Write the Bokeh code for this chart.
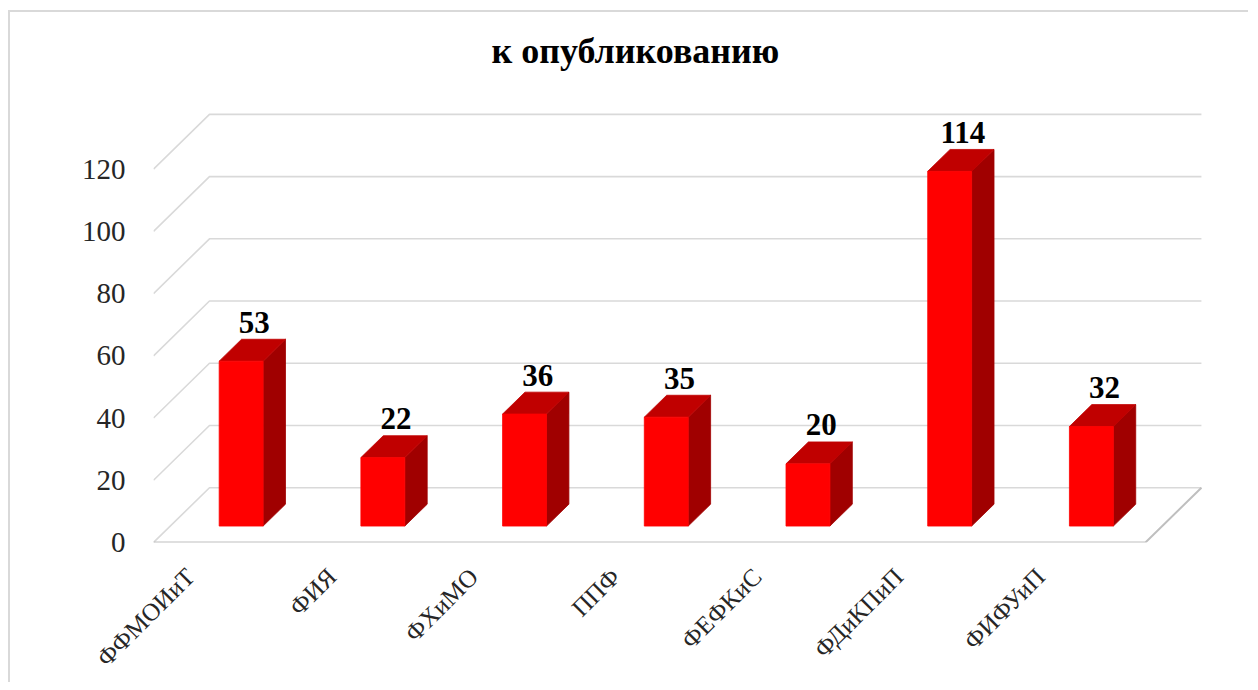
import math
from bokeh.plotting import figure
from bokeh.models import Range1d, FixedTicker, ColumnDataSource
from bokeh.core.properties import value
from bokeh.embed import file_html
from bokeh.resources import INLINE

# ---- data ----
categories = ["ФФМОИиТ", "ФИЯ", "ФХиМО", "ППФ", "ФЕФКиС", "ФДиКПиП", "ФИФУиП"]
values = [53, 22, 36, 35, 20, 114, 32]
y_ticks = [0, 20, 40, 60, 80, 100, 120]
title_text = "к опубликованию"

# ---- 3D look (oblique projection in data units) ----
N = len(categories)
DEPTH_DX = 0.395     # shift in category units for full depth
DEPTH_DY = 17.6      # shift in value units for full depth
BAR_HALF = 0.155     # half bar width (category units)
D0, D1 = 0.3, 0.7    # bar depth extent (0 = front, 1 = back)
LABEL_SHIFT = -0.24  # category-label anchor shift (category units)

FRONT = "#FF0000"
TOP = "#C00000"
SIDE = "#A00000"
GRID = "#D9D9D9"
FLOOR = "#BFBFBF"
SERIF = "Liberation Serif"


def proj(c, v, d):
    return c + d * DEPTH_DX, v + d * DEPTH_DY


def poly(pts):
    xs, ys = zip(*[proj(*q) for q in pts])
    return list(xs), list(ys)


p = figure(width=1240, height=672,
           x_range=Range1d(0, 7.445), y_range=Range1d(0, 148.48),
           output_backend="svg", toolbar_location=None,
           min_border_left=143, min_border_right=42,
           min_border_top=68, min_border_bottom=140)
p.styles = {"margin-left": "8px", "margin-top": "10px",
            "border-top": "2px solid #D9D9D9", "border-left": "2px solid #D9D9D9"}
p.outline_line_color = None
p.xgrid.visible = False
p.ygrid.visible = False
p.background_fill_color = "white"
p.border_fill_color = "white"

# gridlines: left wall + back wall
gx, gy = [], []
for v in y_ticks:
    xs, ys = poly([(0, v, 0), (0, v, 1), (N, v, 1)])
    gx.append(xs)
    gy.append(ys)
p.multi_line(gx, gy, line_color=GRID, line_width=1.6)

# floor outline (front & right edges)
fx, fy = poly([(0, 0, 0), (N, 0, 0), (N, 0, 1)])
p.line(fx, fy, line_color=FLOOR, line_width=2)

# bars
fr_x, fr_y, tp_x, tp_y, sd_x, sd_y = [], [], [], [], [], []
for i, v in enumerate(values):
    c0, c1 = i + 0.5 - BAR_HALF, i + 0.5 + BAR_HALF
    xs, ys = poly([(c0, 0, D0), (c1, 0, D0), (c1, v, D0), (c0, v, D0)])
    fr_x.append(xs); fr_y.append(ys)
    xs, ys = poly([(c0, v, D0), (c1, v, D0), (c1, v, D1), (c0, v, D1)])
    tp_x.append(xs); tp_y.append(ys)
    xs, ys = poly([(c1, 0, D0), (c1, 0, D1), (c1, v, D1), (c1, v, D0)])
    sd_x.append(xs); sd_y.append(ys)
p.patches(sd_x, sd_y, fill_color=SIDE, line_color=SIDE, line_width=0.8)
p.patches(tp_x, tp_y, fill_color=TOP, line_color=TOP, line_width=0.8)
p.patches(fr_x, fr_y, fill_color=FRONT, line_color=FRONT, line_width=0.8)

# value labels
lx, ly = [], []
for i, v in enumerate(values):
    x, y = proj(i + 0.5, v, 0.5)
    lx.append(x); ly.append(y)
src = ColumnDataSource(dict(x=lx, y=ly, t=[str(v) for v in values]))
p.text(x="x", y="y", text="t", source=src, text_align="center",
       text_baseline="middle", y_offset=-28, x_offset=2, text_font=value(SERIF),
       text_font_size="31px", text_font_style="bold", text_color="black")

# axes
p.yaxis.ticker = FixedTicker(ticks=y_ticks)
p.yaxis.axis_line_color = None
p.yaxis.major_tick_line_color = None
p.yaxis.minor_tick_line_color = None
p.yaxis.major_tick_out = 0
p.yaxis.major_tick_in = 0
p.yaxis.major_label_standoff = 28
p.yaxis.major_label_text_font = SERIF
p.yaxis.major_label_text_font_size = "29px"
p.yaxis.major_label_text_color = "#262626"

xt = [round(i + 0.5 + LABEL_SHIFT, 3) for i in range(N)]
p.xaxis.ticker = FixedTicker(ticks=xt)
p.xaxis.major_label_overrides = {t: c for t, c in zip(xt, categories)}
p.xaxis.major_label_orientation = math.pi / 4
p.xaxis.axis_line_color = None
p.xaxis.major_tick_line_color = None
p.xaxis.minor_tick_line_color = None
p.xaxis.major_tick_out = 0
p.xaxis.major_tick_in = 0
p.xaxis.major_label_standoff = 30
p.xaxis.major_label_text_font = SERIF
p.xaxis.major_label_text_font_size = "25px"
p.xaxis.major_label_text_color = "#262626"

# title
p.title.text = title_text
p.title.align = "left"
p.title.offset = 338
p.title.standoff = 19
p.title.text_font = SERIF
p.title.text_font_size = "36px"
p.title.text_font_style = "bold"
p.title.text_color = "black"

open("out.html", "w").write(file_html(p, INLINE))
